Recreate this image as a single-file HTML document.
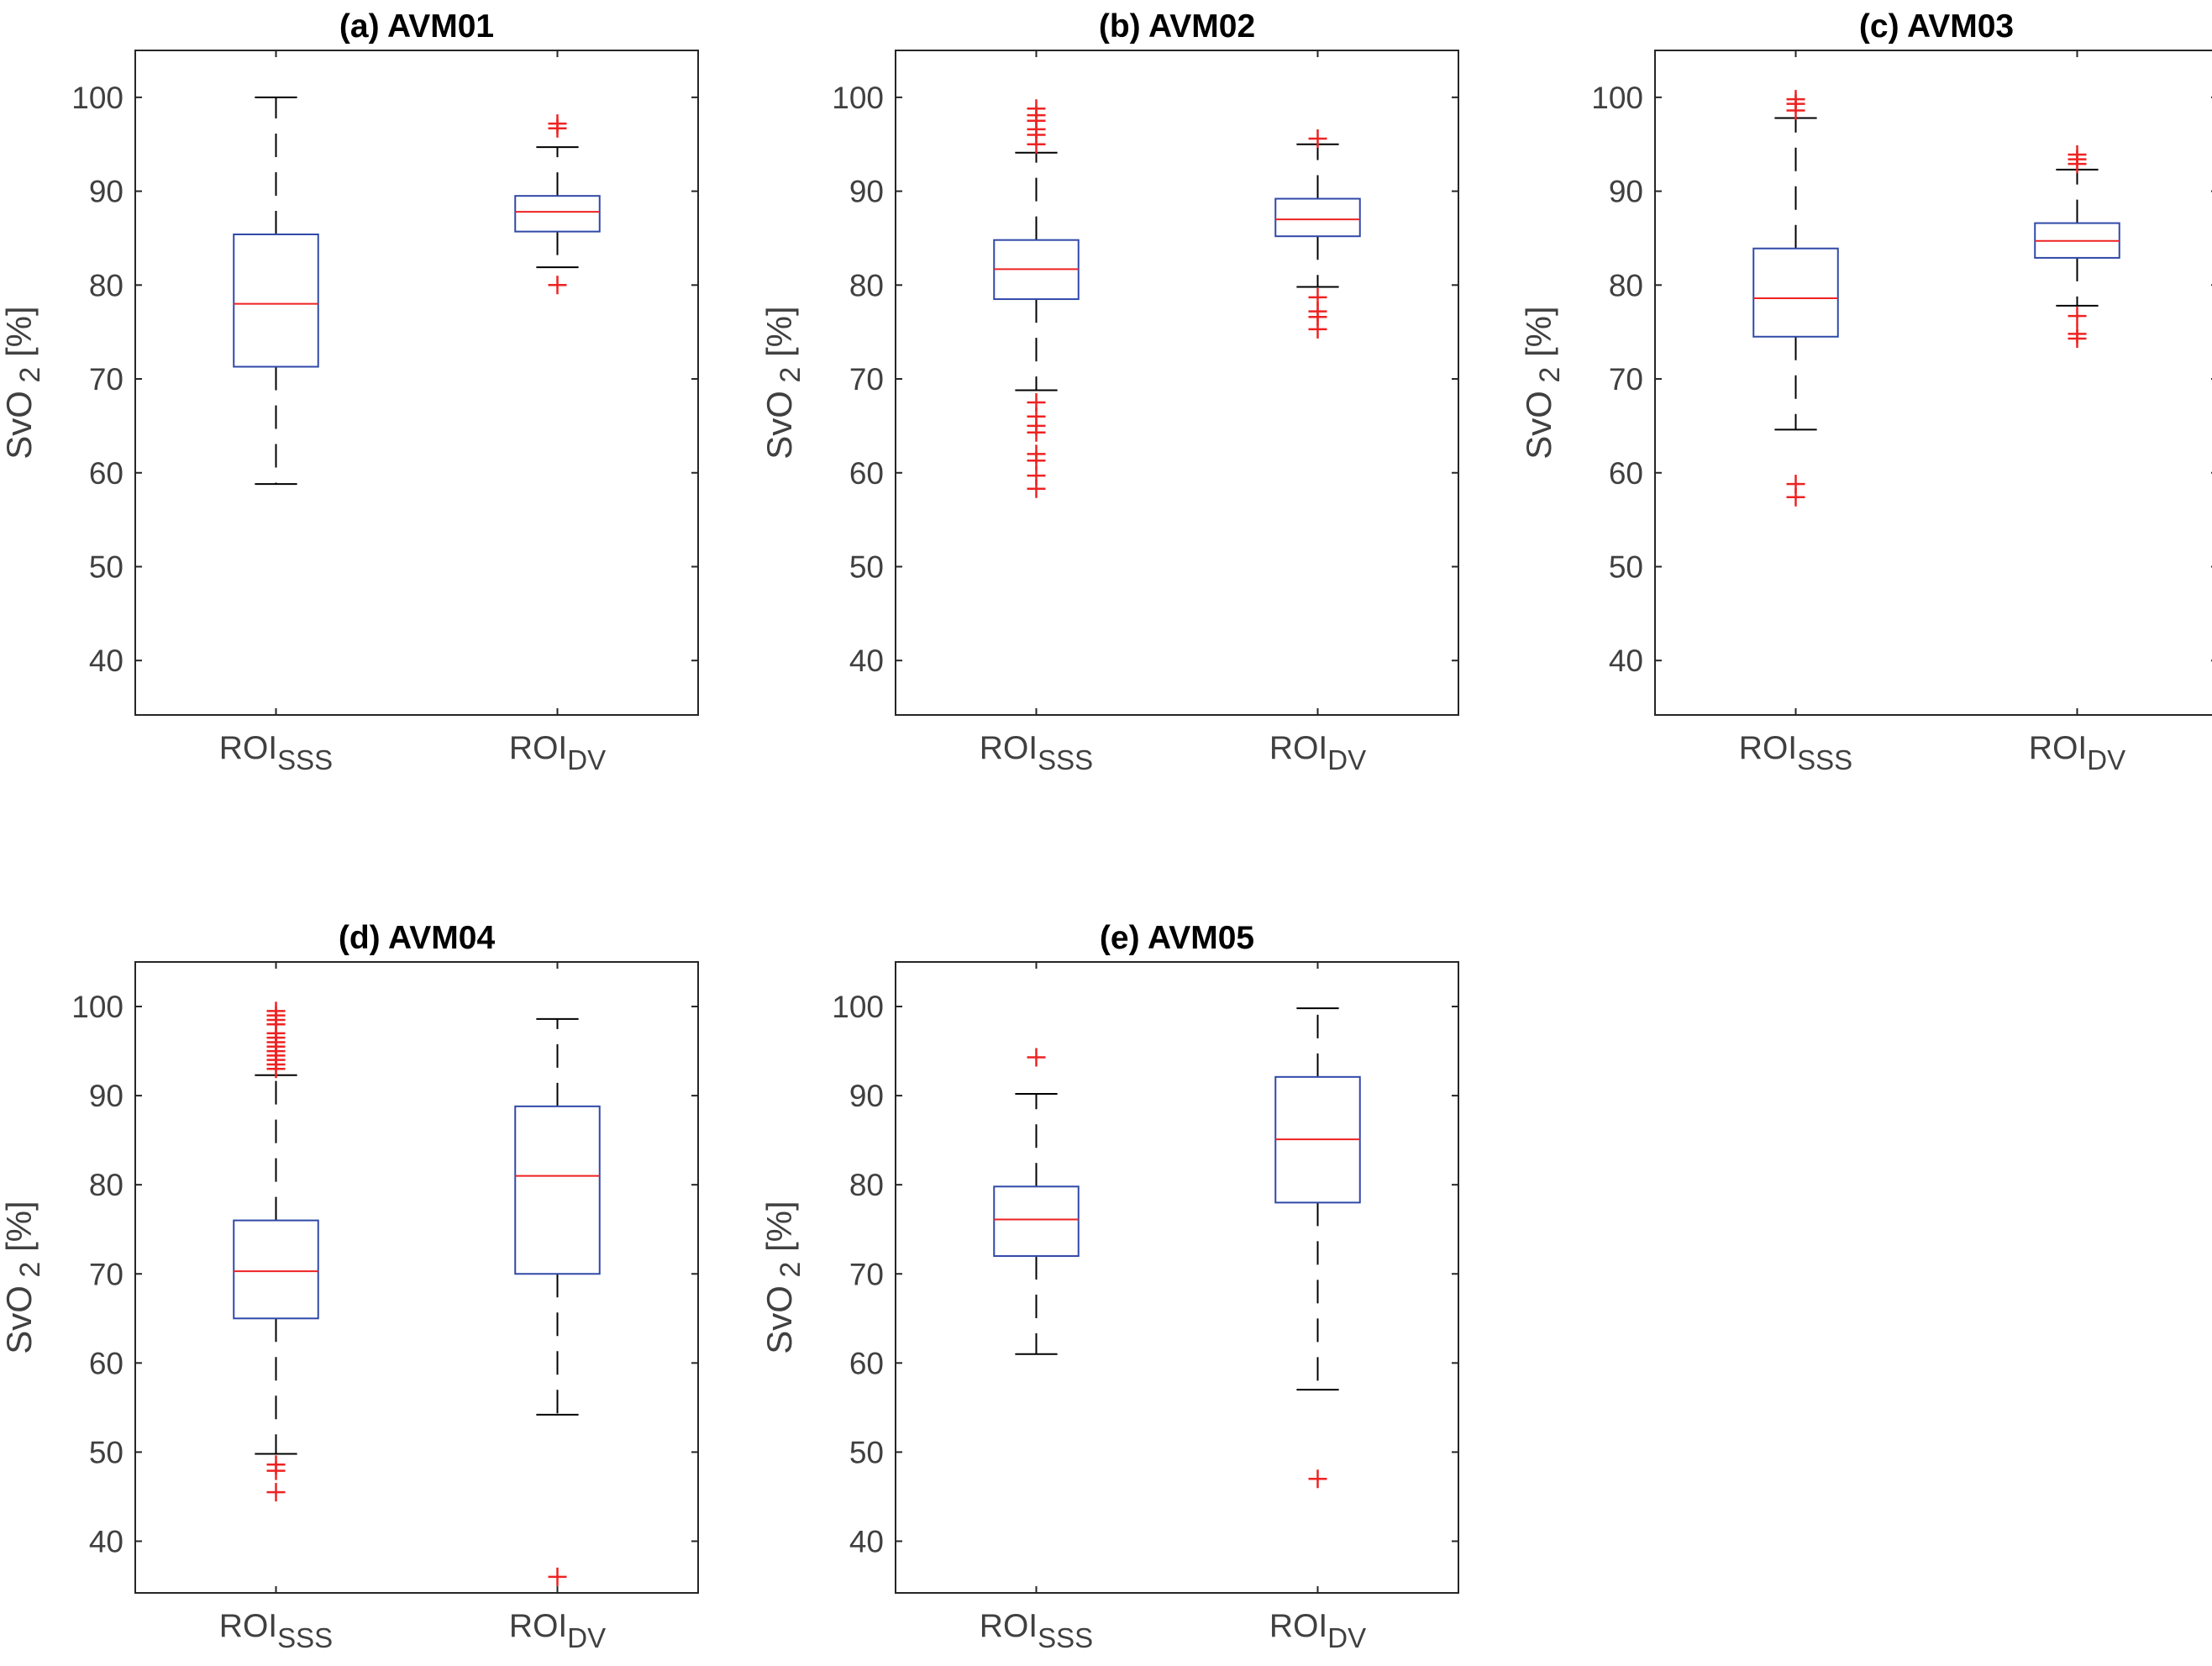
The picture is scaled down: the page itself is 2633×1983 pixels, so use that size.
<!DOCTYPE html>
<html><head><meta charset="utf-8"><style>
html,body{margin:0;padding:0;background:#fff;}
svg{display:block;font-family:"Liberation Sans",Arial,sans-serif;}
</style></head><body>
<svg id="fig" width="2633" height="1983" viewBox="0 0 2633 1983" xmlns="http://www.w3.org/2000/svg"></svg>
<script>
// ---- data ----
const titles = ["(a) AVM01","(b) AVM02","(c) AVM03","(d) AVM04","(e) AVM05"];
const categories = ["SSS","DV"];
const yTicks = [40,50,60,70,80,90,100];
// [lowWhisker, q1, median, q3, highWhisker] for SSS and DV
const statsA = [[58.8,71.3,78.0,85.4,100],[81.9,85.7,87.8,89.5,94.7]];
const statsB = [[68.8,78.5,81.7,84.8,94.1],[79.8,85.2,87.0,89.2,95.0]];
const statsC = [[64.6,74.5,78.6,83.9,97.8],[77.8,82.9,84.7,86.6,92.3]];
const statsD = [[49.8,65.0,70.3,76.0,92.3],[54.2,70.0,81.0,88.8,98.6]];
const statsE = [[61.0,72.0,76.1,79.8,90.2],[57.0,78.0,85.1,92.1,99.8]];
const outA = [[],[97.2,96.7,80.0]];
const outB = [[95.0,96.0,96.6,97.5,98.1,98.8,67.5,66.0,65.0,64.3,62.0,61.3,59.7,58.3],[95.6,78.7,77.2,76.6,75.3]];
const outC = [[99.8,99.3,98.6,58.8,57.4],[93.9,93.4,92.9,76.7,74.8,74.3]];
const outD = [[93.0,93.5,94.0,94.5,95.0,95.5,96.0,96.5,97.0,98.0,98.5,99.0,99.5,48.6,47.9,45.5],[36.0]];
const outE = [[94.3],[47.0]];
const allStats = [statsA,statsB,statsC,statsD,statsE];
const allOut = [outA,outB,outC,outD,outE];
const yMin = 34.2, yMax = 105;

const NS = "http://www.w3.org/2000/svg";
const svg = document.getElementById("fig");
function mk(tag, attrs, parent){const e=document.createElementNS(NS,tag);for(const k in attrs)e.setAttribute(k,attrs[k]);(parent||svg).appendChild(e);return e;}

const lefts = [161,1066,1970,161,1066];
const tops = [60,60,60,1145,1145];
const heights = [791,791,791,751,751];
const W = 670;

titles.forEach((t,pi)=>{
  const L=lefts[pi], T=tops[pi], H=heights[pi];
  const g = mk("g",{});
  
  
  const ys = v => T + (yMax - v)/(yMax - yMin)*H;
  const xs = c => L + (c - 0.5)/2*W;
  const tt = mk("text",{x:L+W/2,y:T-16,"text-anchor":"middle","font-size":39,"font-weight":"bold",fill:"#000"},g);
  tt.textContent=t;
  
  
  const ax = mk("rect",{x:L,y:T,width:W,height:H,fill:"none",stroke:"#262626","stroke-width":2},g);
  
  
  yTicks.forEach(v=>{
    const y=ys(v);
    mk("line",{x1:L,x2:L+8,y1:y,y2:y,stroke:"#262626","stroke-width":2},g);
    mk("line",{x1:L+W-8,x2:L+W,y1:y,y2:y,stroke:"#262626","stroke-width":2},g);
    const lab = mk("text",{x:L-14,y:y+13,"text-anchor":"end","font-size":37,fill:"#404040"},g);
    lab.textContent=v;
    
    
  });
  const yl = mk("text",{transform:`translate(${L-124},${T+H/2}) rotate(-90)`,"text-anchor":"middle","font-size":42,fill:"#404040"},g);
  yl.innerHTML='SvO<tspan dy="10" font-size="34"> 2</tspan><tspan dy="-10"> [%]</tspan>';
  
  
  categories.forEach((cat,ci)=>{
    const x=xs(ci+1);
    mk("line",{x1:x,x2:x,y1:T+H,y2:T+H-8,stroke:"#262626","stroke-width":2},g);
    mk("line",{x1:x,x2:x,y1:T,y2:T+8,stroke:"#262626","stroke-width":2},g);
    const xl = mk("text",{x:x,y:T+H+52,"text-anchor":"middle","font-size":39,fill:"#404040"},g);
    xl.innerHTML='ROI<tspan dy="13" font-size="33">'+cat+'</tspan>';
    
    
    const s = allStats[pi][ci];
    const bw = 0.3/2*W, cw = bw/2;
    const bg = mk("g",{},g);
    
    
    mk("line",{x1:x,x2:x,y1:ys(s[3]),y2:ys(s[4]),stroke:"#000","stroke-width":2,"stroke-dasharray":"28,18"},bg);
    mk("line",{x1:x,x2:x,y1:ys(s[1]),y2:ys(s[0]),stroke:"#000","stroke-width":2,"stroke-dasharray":"28,18"},bg);
    mk("line",{x1:x-cw/2,x2:x+cw/2,y1:ys(s[4]),y2:ys(s[4]),stroke:"#000","stroke-width":2},bg);
    mk("line",{x1:x-cw/2,x2:x+cw/2,y1:ys(s[0]),y2:ys(s[0]),stroke:"#000","stroke-width":2},bg);
    mk("rect",{x:x-bw/2,y:ys(s[3]),width:bw,height:ys(s[1])-ys(s[3]),fill:"none",stroke:"#3049a8","stroke-width":2},bg);
    mk("line",{x1:x-bw/2,x2:x+bw/2,y1:ys(s[2]),y2:ys(s[2]),stroke:"#ee2222","stroke-width":2},bg);
    allOut[pi][ci].forEach(v=>{
      const y=ys(v);
      const p = mk("path",{d:`M${x-11},${y}H${x+11}M${x},${y-11}V${y+11}`,stroke:"#ee2222","stroke-width":2.5,fill:"none"},bg);
      
      
    });
  });
});
</script>
</body></html>
